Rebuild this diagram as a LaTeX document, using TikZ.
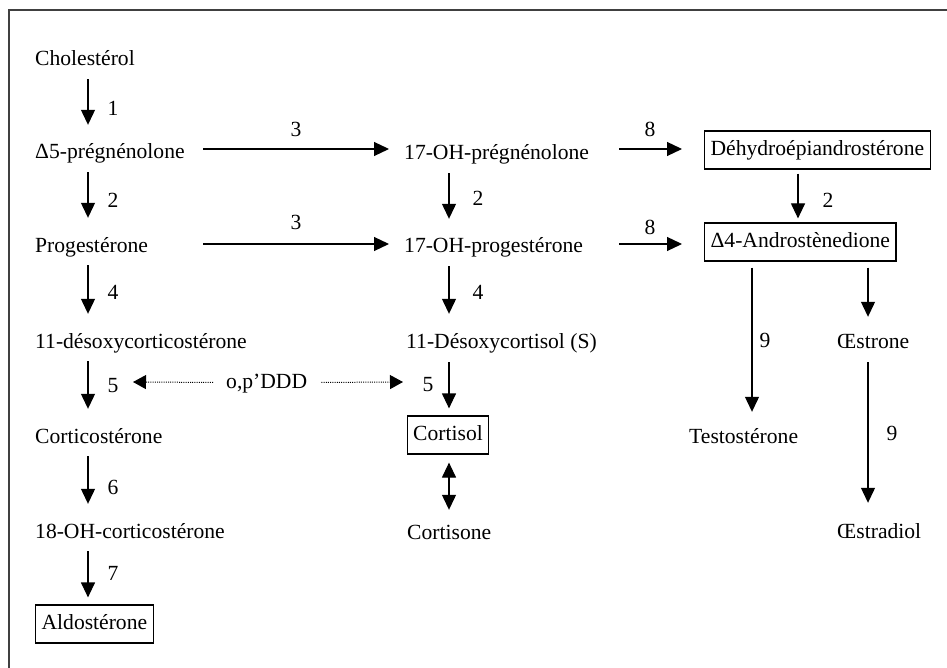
\documentclass[tikz,border=0pt]{standalone}
\usepackage{fontspec}
\setmainfont{Liberation Serif}
\usetikzlibrary{arrows.meta}
\begin{document}
\begin{tikzpicture}[x=1pt,y=-1pt,
  every node/.style={font=\fontsize{21.6}{24}\selectfont},
  lbl/.style={inner sep=0pt,text height=16pt,text depth=5pt,anchor=base west},
  boxed/.style={draw,line width=1.2pt,inner xsep=6pt,inner ysep=8.5pt,text height=16pt,text depth=5pt},
  num/.style={inner sep=0pt},
  arr/.style={line width=1.2pt,-{Triangle[width=14pt,length=15pt]}},
  darr/.style={line width=1.2pt,{Triangle[width=14pt,length=15pt]}-{Triangle[width=14pt,length=15pt]}},
  dotarr/.style={line width=1pt,dash pattern=on 1pt off 1.2pt,-{Triangle[width=14pt,length=13pt]}},
  sv/.style={shorten <=8pt,shorten >=18pt}]
\fill[white] (0,0) rectangle (947,668);
\useasboundingbox (0,0) rectangle (947,668);
\draw[line width=1.5pt,black!75] (9,668) -- (9,10) -- (947,10);

% column / row coordinates
\coordinate (colA) at (88,0);
\coordinate (colB) at (449,0);
\coordinate (colC) at (798,0);
\coordinate (colD) at (752,0);
\coordinate (colE) at (868,0);
\coordinate (hs) at (203,0);
\coordinate (hs8) at (619,0);
\coordinate (r2) at (0,149);
\coordinate (r3) at (0,244);

% left column
\node[lbl] (chol) at (35,66) {Cholestérol};
\node[lbl] (preg) at (35,159) {Δ5-prégnénolone};
\node[lbl] (prog) at (35,252) {Progestérone};
\node[lbl] (doc) at (35,348) {11-désoxycorticostérone};
\node[lbl] (cort) at (35,443) {Corticostérone};
\node[lbl] (ohcort) at (35,538) {18-OH-corticostérone};
\node[boxed,anchor=west] (aldo) at (35,624) {Aldostérone};

% middle column
\node[lbl] (ohpreg) at (404,160) {17-OH-prégnénolone};
\node[lbl] (ohprog) at (404,253) {17-OH-progestérone};
\node[lbl] (dcol) at (406,348) {11-Désoxycortisol (S)};
\node[boxed] (cortisol) at (448,435) {Cortisol};
\node[lbl] (cortisone) at (407,539) {Cortisone};

% right column
\node[boxed,anchor=west] (dhea) at (704,150) {Déhydroépiandrostérone};
\node[boxed,anchor=west] (andro) at (704,242) {Δ4-Androstènedione};
\node[lbl] (testo) at (689,443) {Testostérone};
\node[lbl] (estrone) at (837,348) {Œstrone};
\node[lbl] (estradiol) at (837,538) {Œstradiol};

% inhibitor
\node[lbl] (opddd) at (226,388) {o,p’DDD};

% left vertical arrows
\draw[arr,sv] (chol.south -| colA) -- (preg.north -| colA);
\draw[arr,sv] (preg.south -| colA) -- (prog.north -| colA);
\draw[arr,sv] (prog.south -| colA) -- (doc.north -| colA);
\draw[arr,sv] (doc.south -| colA) -- (cort.north -| colA);
\draw[arr,sv] (cort.south -| colA) -- (ohcort.north -| colA);
\draw[arr,shorten <=8pt,shorten >=7pt] (ohcort.south -| colA) -- (aldo.north -| colA);

% middle vertical arrows
\draw[arr,sv] (ohpreg.south -| colB) -- (ohprog.north -| colB);
\draw[arr,sv] (ohprog.south -| colB) -- (dcol.north -| colB);
\draw[arr,shorten <=9pt,shorten >=7pt] (dcol.south -| colB) -- (cortisol.north -| colB);
\draw[darr,shorten <=8pt,shorten >=13pt] (cortisol.south -| colB) -- (cortisone.north -| colB);

% right vertical arrows
\draw[arr,shorten <=4pt,shorten >=4pt] (dhea.south -| colC) -- (andro.north -| colC);
\draw[arr,shorten <=6pt,shorten >=15pt] (andro.south -| colD) -- (testo.north -| colD);
\draw[arr,shorten <=6pt,shorten >=15pt] (andro.south -| colE) -- (estrone.north -| colE);
\draw[arr,shorten <=9pt,shorten >=19pt] (estrone.south -| colE) -- (estradiol.north -| colE);

% horizontal arrows
\draw[arr,shorten >=15pt] (hs |- r2) -- (ohpreg.west |- r2);
\draw[arr,shorten >=15pt] (hs |- r3) -- (ohprog.west |- r3);
\draw[arr,shorten >=22pt] (hs8 |- r2) -- (dhea.west |- r2);
\draw[arr,shorten >=22pt] (hs8 |- r3) -- (andro.west |- r3);

% dotted inhibitor arrows
\coordinate (dl) at (133,382);
\coordinate (dr) at (403,382);
\draw[dotarr,shorten <=13pt] (opddd.west) -- (dl);
\draw[dotarr,shorten <=14pt] (opddd.east) -- (dr);

% enzyme numbers
\node[num] (n1) at (113,108) {1};
\node[num] (n2) at (113,200) {2};
\node[num] (n4) at (113,292) {4};
\node[num] (n5) at (113,386) {5};
\node[num] (n6) at (113,487) {6};
\node[num] (n7) at (113,573) {7};
\node[num] (n3a) at (296,129) {3};
\node[num] (n3b) at (296,222) {3};
\node[num] (n2m) at (478,198) {2};
\node[num] (n4m) at (478,292) {4};
\node[num] (n5m) at (428,385) {5};
\node[num] (n8a) at (650,129) {8};
\node[num] (n8b) at (650,227) {8};
\node[num] (n2r) at (828,200) {2};
\node[num] (n9a) at (765,340) {9};
\node[num] (n9b) at (892,433) {9};
\end{tikzpicture}
\end{document}
